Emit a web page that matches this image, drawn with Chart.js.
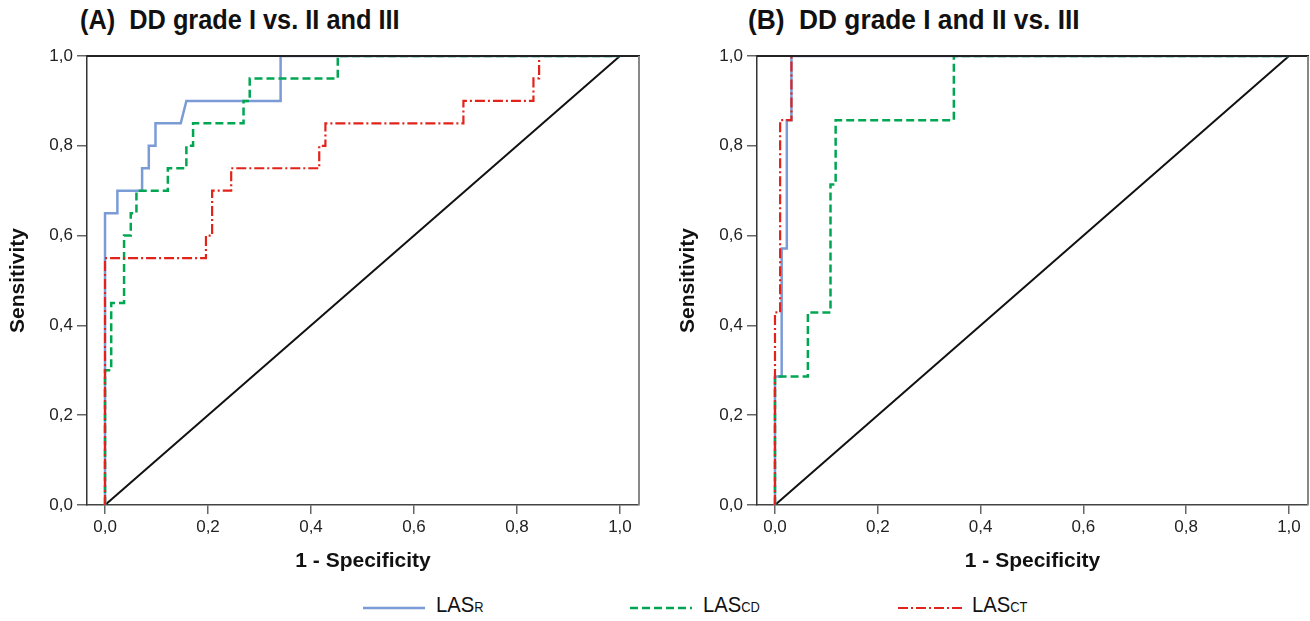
<!DOCTYPE html>
<html>
<head>
<meta charset="utf-8">
<script src="https://cdn.jsdelivr.net/npm/chart.js@4.4.1/dist/chart.umd.min.js"></script>
<style>
  body { margin: 0; width: 1310px; height: 621px; background: #fff; position: relative; overflow: hidden; }
  .box { position: absolute; top: 0; width: 655px; height: 580px; }
  .title { position: absolute; top: 5px; font-family: 'Liberation Sans', Arial, sans-serif; font-weight: bold; font-size: 27px; color: #111; white-space: pre; transform-origin: 0 0; }
  .leg { position: absolute; top: 594px; height: 28px; font-family: 'Liberation Sans', Arial, sans-serif; font-size: 22px; color: #111; }
  .leg svg { position: absolute; top: 8px; left: 0; }
  .leg span.t { position: absolute; top: -2px; white-space: nowrap; transform: scaleX(0.92); transform-origin: 0 0; }
  .leg small { font-size: 14px; }
</style>
</head>
<body>
<div class="title" id="titleA" style="left:80px">(A)  DD grade I vs. II and III</div>
<div class="title" id="titleB" style="left:748px">(B)  DD grade I and II vs. III</div>
<div class="box" style="left:0"><canvas id="chartA"></canvas></div>
<div class="box" style="left:655px"><canvas id="chartB"></canvas></div>

<div class="leg" style="left:363px"><svg width="64" height="12"><line x1="0" y1="6" x2="62" y2="6" stroke="#7b9bd6" stroke-width="2.5"/></svg><span class="t" style="left:73px">LAS<small>R</small></span></div>
<div class="leg" style="left:630px"><svg width="64" height="12"><line x1="0" y1="6" x2="62" y2="6" stroke="#00a651" stroke-width="2.5" stroke-dasharray="8,4"/></svg><span class="t" style="left:73px">LAS<small>CD</small></span></div>
<div class="leg" style="left:898px"><svg width="64" height="12"><line x1="0" y1="6" x2="64" y2="6" stroke="#e2231a" stroke-width="2.2" stroke-dasharray="10,3,2,3"/></svg><span class="t" style="left:74px">LAS<small>CT</small></span></div>

<script>
// tick positions and labels (comma decimals as in the original)
const tickValues = [0, 0.2, 0.4, 0.6, 0.8, 1.0]
const tickLabels = ['0,0', '0,2', '0,4', '0,6', '0,8', '1,0']

// (A) DD grade I vs. II and III
const fprA_R = [0, 0, 0.024, 0.024, 0.072, 0.072, 0.085, 0.085, 0.098, 0.098, 0.147, 0.158, 0.341, 0.341, 1]
const tprA_R = [0, 0.65, 0.65, 0.70, 0.70, 0.75, 0.75, 0.80, 0.80, 0.85, 0.85, 0.90, 0.90, 1.0, 1.0]
const fprA_CD = [0, 0, 0.012, 0.012, 0.037, 0.037, 0.05, 0.05, 0.061, 0.061, 0.122, 0.122, 0.158, 0.158, 0.171, 0.171, 0.269, 0.269, 0.281, 0.281, 0.452, 0.452, 1]
const tprA_CD = [0, 0.30, 0.30, 0.45, 0.45, 0.60, 0.60, 0.65, 0.65, 0.70, 0.70, 0.75, 0.75, 0.80, 0.80, 0.85, 0.85, 0.90, 0.90, 0.95, 0.95, 1.0, 1.0]
const fprA_CT = [0, 0, 0.196, 0.196, 0.208, 0.208, 0.245, 0.245, 0.416, 0.416, 0.428, 0.428, 0.696, 0.696, 0.832, 0.832, 0.843, 0.843, 1]
const tprA_CT = [0, 0.55, 0.55, 0.60, 0.60, 0.70, 0.70, 0.75, 0.75, 0.80, 0.80, 0.85, 0.85, 0.90, 0.90, 0.95, 0.95, 1.0, 1.0]

// (B) DD grade I and II vs. III
const fprB_R = [0, 0, 0.013, 0.013, 0.023, 0.023, 0.032, 0.032, 1]
const tprB_R = [0, 0.286, 0.286, 0.571, 0.571, 0.857, 0.857, 1.0, 1.0]
const fprB_CD = [0, 0, 0.064, 0.064, 0.108, 0.108, 0.118, 0.118, 0.348, 0.348, 1]
const tprB_CD = [0, 0.286, 0.286, 0.429, 0.429, 0.714, 0.714, 0.857, 0.857, 1.0, 1.0]
const fprB_CT = [0, 0, 0.01, 0.01, 0.032, 0.032, 1]
const tprB_CT = [0, 0.429, 0.429, 0.857, 0.857, 1.0, 1.0]

const refX = [0, 1]
const refY = [0, 1]

function pts(xs, ys) {
  return xs.map((x, i) => ({ x: x, y: ys[i] }))
}

// squeeze the panel titles a little, the original uses a narrow bold face
function fitTitle(id, w) {
  const el = document.getElementById(id)
  el.style.transform = `scaleX(${w / el.offsetWidth})`
}
fitTitle('titleA', 320)
fitTitle('titleB', 332)

// top + right frame lines
const framePlugin = {
  id: 'frame',
  afterDatasetsDraw(chart) {
    const a = chart.chartArea
    const ctx = chart.ctx
    ctx.save()
    ctx.lineWidth = 2
    ctx.strokeStyle = '#222'
    ctx.beginPath()
    ctx.moveTo(a.left, a.top)
    ctx.lineTo(a.right + 1, a.top)
    ctx.stroke()
    ctx.strokeStyle = '#888'
    ctx.beginPath()
    ctx.moveTo(a.right, a.top)
    ctx.lineTo(a.right, a.bottom)
    ctx.stroke()
    ctx.restore()
  },
}

function makeChart(id, r, cd, ct, padLeft, padRight) {
  const ctx = document.getElementById(id).getContext('2d')
  return new Chart(ctx, {
    type: 'scatter',
    data: {
      datasets: [
        { label: 'LAS CT', data: pts(ct[0], ct[1]), borderColor: '#e2231a', borderWidth: 2.2, borderDash: [10, 3, 2, 3] },
        { label: 'LAS CD', data: pts(cd[0], cd[1]), borderColor: '#00a651', borderWidth: 2.5, borderDash: [8, 4] },
        { label: 'LAS R', data: pts(r[0], r[1]), borderColor: '#7b9bd6', borderWidth: 2.5 },
        { label: 'Reference', data: pts(refX, refY), borderColor: '#111', borderWidth: 2 },
      ].map((d) => Object.assign(d, { showLine: true, pointRadius: 0, tension: 0, fill: false })),
    },
    options: {
      responsive: false,
      animation: false,
      layout: { padding: { top: 56, right: padRight, left: padLeft, bottom: 0 } },
      plugins: { legend: { display: false }, tooltip: { enabled: false } },
      scales: {
        x: {
          type: 'linear',
          min: -0.035,
          max: 1.037,
          afterBuildTicks: (s) => { s.ticks = tickValues.map((v) => ({ value: v })) },
          afterFit: (s) => { s.height = 75 },
          ticks: {
            callback: (v) => tickLabels[tickValues.indexOf(v)],
            font: { family: 'Liberation Sans', size: 17 },
            color: '#222',
            padding: 3,
            maxRotation: 0,
          },
          grid: { drawOnChartArea: false, drawTicks: true, tickLength: 9, color: '#666', lineWidth: 1.5 },
          border: { display: true, color: '#444', width: 1.5 },
          title: { display: true, text: '1 - Specificity', font: { family: 'Liberation Sans', size: 21, weight: 'bold' }, color: '#111', padding: { top: 0, bottom: 6 } },
        },
        y: {
          type: 'linear',
          min: 0,
          max: 1,
          afterBuildTicks: (s) => { s.ticks = tickValues.map((v) => ({ value: v })) },
          afterFit: (s) => { s.width = 87 },
          ticks: {
            callback: (v) => tickLabels[tickValues.indexOf(v)],
            font: { family: 'Liberation Sans', size: 17 },
            color: '#222',
            padding: 4,
          },
          grid: { drawOnChartArea: false, drawTicks: true, tickLength: 10, color: '#666', lineWidth: 1.5 },
          border: { display: true, color: '#333', width: 1.5 },
          title: { display: true, text: 'Sensitivity', font: { family: 'Liberation Sans', size: 21, weight: 'bold' }, color: '#111', padding: { top: 6, bottom: 0 } },
        },
      },
    },
    plugins: [framePlugin],
  })
}

document.getElementById('chartA').width = 655
document.getElementById('chartA').height = 580
document.getElementById('chartB').width = 655
document.getElementById('chartB').height = 580

makeChart('chartA', [fprA_R, tprA_R], [fprA_CD, tprA_CD], [fprA_CT, tprA_CT], 0, 16)
makeChart('chartB', [fprB_R, tprB_R], [fprB_CD, tprB_CD], [fprB_CT, tprB_CT], 15, 2)
</script>
</body>
</html>
